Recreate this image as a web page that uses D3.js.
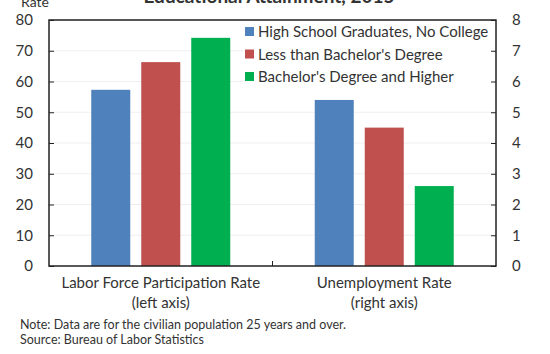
<!DOCTYPE html>
<html>
<head>
<meta charset="utf-8">
<script src="https://cdn.jsdelivr.net/npm/d3@7"></script>
<style>
  body { margin: 0; background: #fff; }
  text { font-family: Lato, "Open Sans", sans-serif; fill: #333; }
</style>
</head>
<body>
<div class="chart"></div>
<script>
const WIDTH = 550;
const HEIGHT = 354;
const MARGIN = {top: 20, right: 54, bottom: 88, left: 49};
const INNER_WIDTH = WIDTH - MARGIN.left - MARGIN.right;
const INNER_HEIGHT = HEIGHT - MARGIN.top - MARGIN.bottom;

// data
var groups = ["Labor Force Participation Rate", "Unemployment Rate"];
var groupNotes = ["(left axis)", "(right axis)"];
var series = ["High School Graduates, No College", "Less than Bachelor's Degree", "Bachelor's Degree and Higher"];
var colors = ["#4f81bd", "#c0504d", "#00b050"];
var participation = [57.3, 66.3, 74.2];
var unemployment = [5.4, 4.5, 2.6];
var leftTicks = [0, 10, 20, 30, 40, 50, 60, 70, 80];
var rightTicks = [0, 1, 2, 3, 4, 5, 6, 7, 8];

var svg = d3.select('.chart').append('svg')
    .attr('width', WIDTH)
    .attr('height', HEIGHT);

var g = svg.append('g')
    .attr('transform', 'translate(' + MARGIN.left + ',' + MARGIN.top + ')');

var xScale = d3.scaleBand().domain(groups).range([0, INNER_WIDTH]);
var seriesScale = d3.scaleBand().domain(series).range([0, 139]).paddingInner(0.22);
var leftScale = d3.scaleLinear().domain([0, 80]).range([INNER_HEIGHT, 0]);
var rightScale = d3.scaleLinear().domain([0, 8]).range([INNER_HEIGHT, 0]);

// faint gridlines
g.append('g').selectAll('line').data(leftTicks.slice(1)).enter().append('line')
    .attr('x1', 0).attr('x2', INNER_WIDTH)
    .attr('y1', function (d) { return leftScale(d); })
    .attr('y2', function (d) { return leftScale(d); })
    .attr('stroke', '#efefef');

// bars
function drawGroup(groupName, values, scale) {
    var x0 = xScale(groupName) + (xScale.bandwidth() - 139) / 2;
    g.append('g').selectAll('rect').data(values).enter().append('rect')
        .attr('x', function (d, i) { return x0 + seriesScale(series[i]); })
        .attr('y', function (d) { return scale(d); })
        .attr('width', seriesScale.bandwidth())
        .attr('height', function (d) { return INNER_HEIGHT - scale(d); })
        .attr('fill', function (d, i) { return colors[i]; });
}
drawGroup(groups[0], participation, leftScale);
drawGroup(groups[1], unemployment, rightScale);

// legend
var legend = g.append('g').attr('transform', 'translate(194,0)');
legend.append('rect')
    .attr('x', 0).attr('y', 1).attr('width', INNER_WIDTH - 195).attr('height', 70)
    .attr('fill', '#fff');
var items = legend.selectAll('g.item').data(series).enter().append('g')
    .attr('transform', function (d, i) { return 'translate(0,' + (12 + i * 22.5) + ')'; });
items.append('rect')
    .attr('x', 2).attr('y', -5).attr('width', 9).attr('height', 9)
    .attr('fill', function (d, i) { return colors[i]; });
items.append('text')
    .attr('x', 15).attr('y', 0).attr('dy', '0.35em')
    .style('font-size', '15px')
    .text(function (d) { return d; });

// frame
g.append('rect')
    .attr('width', INNER_WIDTH).attr('height', INNER_HEIGHT)
    .attr('fill', 'none').attr('stroke', '#222').attr('stroke-width', 1.5);

// axes
var leftAxis = d3.axisLeft(leftScale).tickValues(leftTicks).tickSizeInner(-5).tickSizeOuter(0).tickPadding(16);
var rightAxis = d3.axisRight(rightScale).tickValues(rightTicks).tickSizeInner(-5).tickSizeOuter(0).tickPadding(16);

var leftG = g.append('g').call(leftAxis);
var rightG = g.append('g').attr('transform', 'translate(' + INNER_WIDTH + ',0)').call(rightAxis);
[leftG, rightG].forEach(function (a) {
    a.select('.domain').remove();
    a.selectAll('line').attr('stroke', '#222');
    a.selectAll('text').style('font-size', '15px').attr('fill', '#333').attr('font-family', null);
});

// middle category tick
g.append('line')
    .attr('x1', xScale.bandwidth()).attr('x2', xScale.bandwidth())
    .attr('y1', INNER_HEIGHT).attr('y2', INNER_HEIGHT - 5)
    .attr('stroke', '#222');

// category labels
var cat = g.append('g').selectAll('g').data(groups).enter().append('g')
    .attr('transform', function (d) { return 'translate(' + (xScale(d) + xScale.bandwidth() / 2) + ',' + INNER_HEIGHT + ')'; });
cat.append('text').attr('text-anchor', 'middle').attr('y', 22)
    .style('font-size', '15px').text(function (d) { return d; });
cat.append('text').attr('text-anchor', 'middle').attr('y', 42)
    .style('font-size', '15px').text(function (d, i) { return groupNotes[i]; });

// title and axis label, cut off at the top as in the original
svg.append('text').attr('x', 269).attr('y', 3).attr('text-anchor', 'middle')
    .style('font-size', '19px').style('font-weight', 'bold').attr('fill', '#111')
    .text('Educational Attainment, 2015');
svg.append('text').attr('x', 21).attr('y', 7)
    .style('font-size', '14px').text('Rate');

// notes
svg.append('text').attr('x', 20).attr('y', 328.5)
    .style('font-size', '12.5px').text('Note: Data are for the civilian population 25 years and over.');
svg.append('text').attr('x', 20).attr('y', 343.5)
    .style('font-size', '12.5px').text('Source: Bureau of Labor Statistics');
</script>
</body>
</html>
